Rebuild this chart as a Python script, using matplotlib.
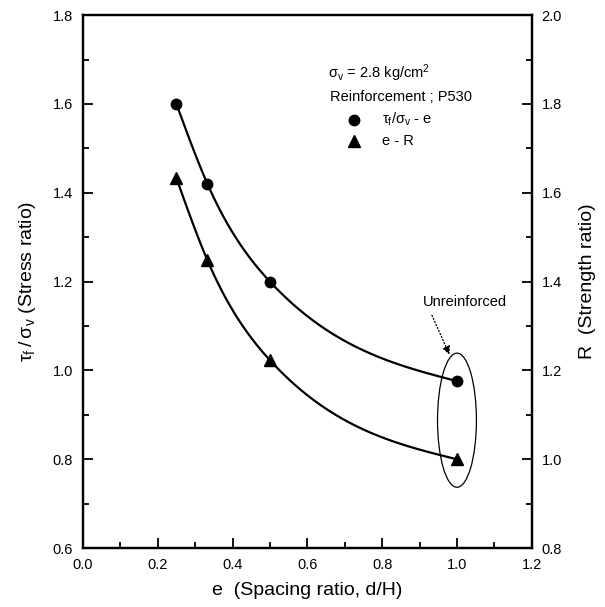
import numpy as np
import matplotlib
matplotlib.use("Agg")
import matplotlib.pyplot as plt
from matplotlib.patches import Ellipse
from matplotlib.ticker import MultipleLocator

plt.rcParams['font.family'] = ['Liberation Sans', 'DejaVu Sans']
plt.rcParams['mathtext.default'] = 'regular'

# data
e = np.array([0.25, 0.333, 0.5, 1.0])
stress_ratio = np.array([1.60, 1.42, 1.20, 0.976])
strength_ratio = np.array([1.633, 1.448, 1.223, 1.0])


def natural_spline(x, y, n=200):
    # plain natural cubic spline, just for drawing a smooth line through the points
    k = len(x)
    h = np.diff(x)
    A = np.zeros((k, k))
    b = np.zeros(k)
    A[0, 0] = 1
    A[-1, -1] = 1
    for i in range(1, k - 1):
        A[i, i - 1] = h[i - 1]
        A[i, i] = 2 * (h[i - 1] + h[i])
        A[i, i + 1] = h[i]
        b[i] = 6 * ((y[i + 1] - y[i]) / h[i] - (y[i] - y[i - 1]) / h[i - 1])
    M = np.linalg.solve(A, b)
    xs = np.linspace(x[0], x[-1], n)
    ys = np.zeros(n)
    for j, xv in enumerate(xs):
        i = min(np.searchsorted(x, xv, side='right') - 1, k - 2)
        t1 = x[i + 1] - xv
        t0 = xv - x[i]
        ys[j] = (M[i] * t1**3 + M[i + 1] * t0**3) / (6 * h[i]) \
            + (y[i] / h[i] - M[i] * h[i] / 6) * t1 \
            + (y[i + 1] / h[i] - M[i + 1] * h[i] / 6) * t0
    return xs, ys


fig = plt.figure(figsize=(6.05, 6.07), dpi=100)
ax = fig.add_axes([0.137, 0.097, 0.742, 0.878])
ax2 = ax.twinx()

xs, ys = natural_spline(e, stress_ratio)
ax.plot(xs, ys, color='black', lw=1.6)
ax.plot(e, stress_ratio, 'o', color='black', ms=7.5)

xs2, ys2 = natural_spline(e, strength_ratio)
ax2.plot(xs2, ys2, color='black', lw=1.6)
ax2.plot(e, strength_ratio, '^', color='black', ms=8)

ax.set_xlim(0.0, 1.2)
ax.set_ylim(0.6, 1.8)
ax2.set_ylim(0.8, 2.0)

ax.xaxis.set_major_locator(MultipleLocator(0.2))
ax.xaxis.set_minor_locator(MultipleLocator(0.1))
ax.yaxis.set_major_locator(MultipleLocator(0.2))
ax.yaxis.set_minor_locator(MultipleLocator(0.1))
ax2.yaxis.set_major_locator(MultipleLocator(0.2))
ax2.yaxis.set_minor_locator(MultipleLocator(0.1))

for a in (ax, ax2):
    a.tick_params(which='both', direction='in', top=False, labelsize=10.5,
                  width=1.3, pad=7)
    a.tick_params(which='major', length=7)
    a.tick_params(which='minor', length=4)
    for s in a.spines.values():
        s.set_linewidth(1.6)
ax.tick_params(axis='y', right=False)
ax.xaxis.set_major_formatter(plt.FormatStrFormatter('%.1f'))
ax.yaxis.set_major_formatter(plt.FormatStrFormatter('%.1f'))
ax2.yaxis.set_major_formatter(plt.FormatStrFormatter('%.1f'))

ax.set_xlabel('e  (Spacing ratio, d/H)', fontsize=14, labelpad=7)
ax.set_ylabel(r'$\tau_f\,/\,\sigma_v$ (Stress ratio)', fontsize=14, labelpad=11)
ax2.set_ylabel('R  (Strength ratio)', fontsize=14, labelpad=12)

# legend block
ax.text(0.655, 1.67, r'$\sigma_v$ = 2.8 kg/cm$^2$', fontsize=10.5, va='center')
ax.text(0.66, 1.615, 'Reinforcement ; P530', fontsize=10.5, va='center')
ax.plot([0.725], [1.565], 'o', color='black', ms=7.5)
ax.plot([0.725], [1.517], '^', color='black', ms=8)
ax.text(0.8, 1.565, r'$\tau_f/\sigma_v$ - e', fontsize=10.5, va='center')
ax.text(0.8, 1.517, 'e - R', fontsize=10.5, va='center')

# unreinforced ellipse + arrow
ax.add_patch(Ellipse((1.0, 0.888), 0.104, 0.302, fill=False, lw=0.9, color='black'))
ax.text(0.91, 1.155, 'Unreinforced', fontsize=10.5, va='center')
ax.annotate('', xy=(0.983, 1.03), xytext=(0.93, 1.13),
            arrowprops=dict(arrowstyle='-|>', ls=':', lw=0.9, color='black',
                            mutation_scale=12))

fig.savefig('out.png', dpi=100)
